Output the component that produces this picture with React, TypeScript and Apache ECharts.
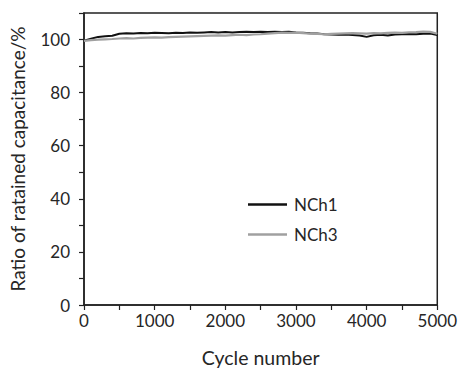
import React, { useEffect, useRef } from "react";
import * as echarts from "echarts";

const cycles = [
  0, 100, 200, 300, 400, 500, 600, 700, 800, 900, 1000, 1100, 1200, 1300, 1400, 1500, 1600, 1700, 1800, 1900, 2000,
  2100, 2200, 2300, 2400, 2500, 2600, 2700, 2800, 2900, 3000, 3100, 3200, 3300, 3400, 3500, 3600, 3700, 3800, 3900,
  4000, 4100, 4200, 4300, 4400, 4500, 4600, 4700, 4800, 4900, 5000,
];

const nch1 = [
  99.6, 100.3, 101.0, 101.2, 101.4, 102.2, 102.4, 102.3, 102.5, 102.4, 102.6, 102.5, 102.4, 102.6, 102.5, 102.7,
  102.6, 102.7, 102.8, 102.7, 102.8, 102.7, 102.8, 102.9, 102.8, 102.9, 102.8, 102.9, 102.8, 102.9, 102.7, 102.6,
  102.4, 102.3, 102.0, 101.9, 101.8, 101.9, 101.7, 101.5, 101.0, 101.6, 101.8, 101.5, 101.9, 102.0, 102.1, 102.0,
  102.2, 102.3, 101.7,
];

const nch3 = [
  99.5, 99.8, 100.0, 100.1, 100.2, 100.4, 100.5, 100.4, 100.6, 100.7, 100.8, 100.7, 100.9, 101.0, 101.1, 101.2,
  101.3, 101.4, 101.5, 101.6, 101.5, 101.7, 101.8, 101.7, 101.9, 102.0, 102.2, 102.4, 102.6, 102.5, 102.6, 102.4,
  102.2, 102.1, 102.0, 102.1, 102.2, 102.3, 102.4, 102.3, 102.2, 102.4, 102.3, 102.5, 102.6, 102.5, 102.7, 102.8,
  103.0, 102.9, 102.2,
];

const seriesNames = ["NCh1", "NCh3"];
const xTitle = "Cycle number";
const yTitle = "Ratio of ratained capacitance/%";

const FONT = "Lato";
const TXT = "#262626";

export default function App() {
  const ref = useRef<HTMLDivElement>(null);
  useEffect(() => {
    if (!ref.current) return;
    const chart = echarts.init(ref.current, undefined, { renderer: "svg" });
    const axisCommon = {
      axisLine: { show: true, onZero: false, lineStyle: { color: "#222", width: 1.5 } },
      axisTick: { show: true, inside: false, length: 5, lineStyle: { color: "#222", width: 1.2 } },
      minorTick: { show: true, splitNumber: 2, length: 5, lineStyle: { color: "#222", width: 1.2 } },
      splitLine: { show: false },
    };
    chart.setOption({
      animation: false,
      backgroundColor: "#fff",
      grid: {
        left: 84,
        right: 21,
        top: 13,
        bottom: 60,
        show: true,
        borderColor: "#222",
        borderWidth: 1.5,
      },
      legend: {
        orient: "vertical",
        left: 243,
        top: 191,
        icon: "rect",
        itemWidth: 39,
        itemHeight: 2.5,
        itemGap: 13,
        textStyle: { fontFamily: FONT, fontSize: 17, color: TXT, lineHeight: 17, padding: [0, 0, 0, 2] },
        data: seriesNames,
      },
      xAxis: {
        type: "value",
        min: 0,
        max: 5000,
        interval: 1000,
        name: xTitle,
        nameLocation: "middle",
        nameGap: 42,
        nameTextStyle: { fontFamily: FONT, fontSize: 19.5, color: TXT },
        axisLabel: {
          fontFamily: FONT,
          fontSize: 17,
          color: TXT,
          margin: 7,
          formatter: (v: number) => String(v),
        },
        ...axisCommon,
      },
      yAxis: {
        type: "value",
        min: 0,
        max: 110,
        interval: 20,
        name: yTitle,
        nameLocation: "middle",
        nameGap: 57,
        nameTextStyle: { fontFamily: FONT, fontSize: 19, color: TXT },
        axisLabel: {
          fontFamily: FONT,
          fontSize: 17,
          color: TXT,
          margin: 14,
          formatter: (v: number) => (v % 20 === 0 && v <= 100 ? String(v) : ""),
        },
        ...axisCommon,
      },
      series: [
        {
          name: seriesNames[0],
          type: "line",
          data: cycles.map((c, i) => [c, nch1[i]]),
          showSymbol: false,
          symbol: "none",
          lineStyle: { color: "#111", width: 2 },
          itemStyle: { color: "#111" },
        },
        {
          name: seriesNames[1],
          type: "line",
          data: cycles.map((c, i) => [c, nch3[i]]),
          showSymbol: false,
          symbol: "none",
          lineStyle: { color: "#a0a0a0", width: 2.2 },
          itemStyle: { color: "#a0a0a0" },
        },
      ],
    });
    return () => chart.dispose();
  }, []);
  return <div ref={ref} style={{ width: 460, height: 372, position: "absolute", left: 0, top: 0 }} />;
}
